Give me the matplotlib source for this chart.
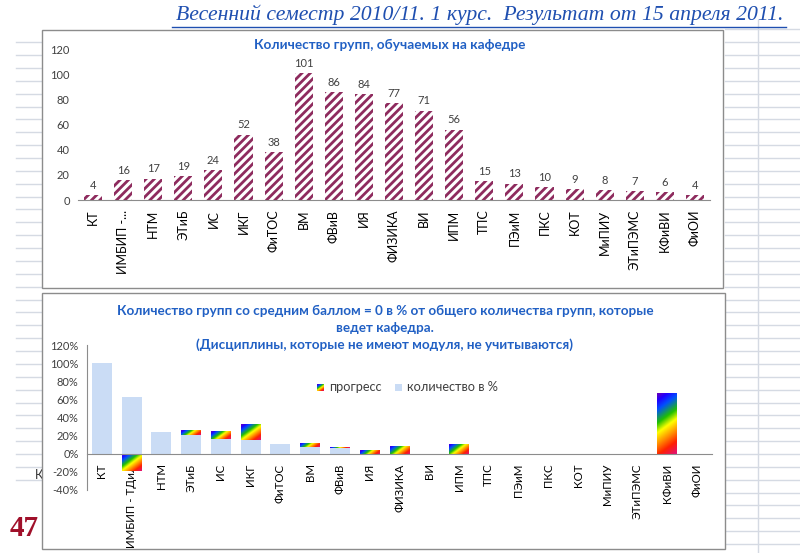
import numpy as np
import matplotlib.pyplot as plt
from matplotlib.colors import LinearSegmentedColormap
from matplotlib.patches import Rectangle
from matplotlib.lines import Line2D

plt.rcParams['font.family'] = ['Lato', 'DejaVu Sans']
plt.rcParams['hatch.linewidth'] = 2.0

W, H = 800, 553

# данные верхней диаграммы
kafedry_top = ['КТ', 'ИМБИП -...', 'НТМ', 'ЭТиБ', 'ИС', 'ИКГ', 'ФиТОС', 'ВМ', 'ФВиВ', 'ИЯ',
               'ФИЗИКА', 'ВИ', 'ИПМ', 'ТПС', 'ПЭиМ', 'ПКС', 'КОТ', 'МиПИУ', 'ЭТиПЭМС',
               'КФиВИ', 'ФиОИ']
gruppy = [4, 16, 17, 19, 24, 52, 38, 101, 86, 84, 77, 71, 56, 15, 13, 10, 9, 8, 7, 6, 4]

# данные нижней диаграммы (в %)
kafedry_bot = ['КТ', 'ИМБИП - ТДиЛ', 'НТМ', 'ЭТиБ', 'ИС', 'ИКГ', 'ФиТОС', 'ВМ', 'ФВиВ', 'ИЯ',
               'ФИЗИКА', 'ВИ', 'ИПМ', 'ТПС', 'ПЭиМ', 'ПКС', 'КОТ', 'МиПИУ', 'ЭТиПЭМС',
               'КФиВИ', 'ФиОИ']
kolichestvo = [100, 62.5, 23.5, 21.1, 16.7, 15.4, 10.5, 6.9, 5.8, 0, 0, 0, 0, 0, 0, 0, 0, 0, 0, 0, 0]
progress = [0, -18.8, 0, 5.3, 8.3, 17.3, 0, 5.0, 1.2, 3.6, 9.1, 0, 11.2, 0, 0, 0, 0, 0, 0, 66.7, 0]

blue_title = '#2160C4'
rainbow = LinearSegmentedColormap.from_list('rb', [
    (0.0, '#6A00B8'), (0.1, '#2000FF'), (0.22, '#0050FF'), (0.4, '#20C000'),
    (0.53, '#FFFF00'), (0.68, '#FF9000'), (0.83, '#FF2000'), (1.0, '#E0107A')])


def fx(x):
    return x / W


def fy(y):
    return 1 - y / H


def gradient(pw, ph, k=1.4):
    nx = max(int(pw * 2), 2)
    ny = max(int(ph * 2), 2)
    xs = np.linspace(0, 1, nx) * pw
    ys = np.linspace(0, 1, ny) * ph
    return (xs[None, :] + k * ys[:, None]) / (pw + k * ph)


fig = plt.figure(figsize=(W / 100, H / 100), dpi=100)

# сетка листа Excel по краям
for k in range(0, 41):
    y = 29.3 + k * 12.87
    fig.add_artist(Line2D([fx(725), fx(800)], [fy(y), fy(y)], color='#D5DAE3', lw=1, zorder=-3))
    if 1 <= k <= 35:
        fig.add_artist(Line2D([fx(16), fx(42)], [fy(y), fy(y)], color='#D5DAE3', lw=1, zorder=-3))
fig.add_artist(Line2D([fx(758), fx(758)], [fy(20), fy(553)], color='#D5DAE3', lw=1, zorder=-3))
fig.text(fx(35), fy(475), 'К', fontsize=9, color='#333333', va='center', zorder=-3)

# рамки диаграмм
for (x0, y0, x1, y1) in [(42, 30, 723, 288), (42, 293, 725, 549)]:
    fig.add_artist(Rectangle((fx(x0), fy(y1)), fx(x1) - fx(x0), fy(y0) - fy(y1),
                             transform=fig.transFigure, facecolor='white',
                             edgecolor='#8C8C8C', lw=1, zorder=-1))

# заголовок слайда
fig.text(fx(784), fy(15), 'Весенний семестр 2010/11. 1 курс.  Результат от 15 апреля 2011.',
         family='Liberation Serif', style='italic', fontsize=15.7, color='#1F4FB0',
         ha='right', va='center')
fig.add_artist(Line2D([fx(172), fx(786)], [fy(27), fy(27)], color='#1F4FB0', lw=1))
fig.text(fx(10), fy(528), '47', family='Liberation Serif', weight='bold', fontsize=21,
         color='#A0102A', va='center')

# ---------- верхняя диаграмма ----------
ax1 = fig.add_axes([fx(78), fy(200), fx(710) - fx(78), fy(49) - fy(200)])
ax1.set_facecolor('none')
x = np.arange(len(gruppy))
bars = ax1.bar(x, gruppy, width=0.6, color='white', edgecolor='#8E2B5E', hatch='////', lw=0)
for xi, v in zip(x, gruppy):
    ax1.annotate(str(v), (xi, v), xytext=(0, 3), textcoords='offset points',
                 ha='center', va='bottom', fontsize=8, color='#404040')
ax1.set_xlim(-0.5, len(gruppy) - 0.5)
ax1.set_ylim(0, 120)
ax1.set_yticks(range(0, 121, 20))
ax1.set_xticks(x)
ax1.set_xticklabels(kafedry_top, rotation=90, fontsize=9)
ax1.tick_params(axis='x', length=0, pad=7)
ax1.tick_params(axis='y', length=0, pad=6, labelsize=8, labelcolor='#404040')
for s in ['top', 'right', 'left']:
    ax1.spines[s].set_visible(False)
ax1.spines['bottom'].set_color('#8C8C8C')
fig.text(fx(390), fy(45), 'Количество групп, обучаемых на кафедре', fontsize=9.8,
         weight='bold', color=blue_title, ha='center', va='center')

# ---------- нижняя диаграмма ----------
ax2 = fig.add_axes([fx(87), fy(490), fx(712) - fx(87), fy(345) - fy(490)])
ax2.set_facecolor('none')
ax2.spines['bottom'].set_position(('data', 0))
x2 = np.arange(len(kolichestvo))
ax2.set_xlim(-0.5, len(kolichestvo) - 0.5)
ax2.set_ylim(-40, 120)
ax2.bar(x2, kolichestvo, width=0.67, color='#CADCF5', lw=0)
bottoms = [c if p > 0 else 0 for c, p in zip(kolichestvo, progress)]
pbars = ax2.bar(x2, progress, bottom=bottoms, width=0.67, color='none', lw=0)
for b, p in zip(pbars, progress):
    if p == 0:
        continue
    bb = b.get_bbox()
    xa, xb = bb.x0, bb.x1
    ya, yb = min(bb.y0, bb.y1), max(bb.y0, bb.y1)
    p0 = ax2.transData.transform((xa, ya))
    p1 = ax2.transData.transform((xb, yb))
    img = gradient(p1[0] - p0[0], p1[1] - p0[1])
    im = ax2.imshow(img, cmap=rainbow, extent=(xa, xb, ya, yb), origin='upper',
                    aspect='auto', interpolation='bilinear', vmin=0, vmax=1, zorder=2)
    im.set_clip_path(b)
ax2.set_xlim(-0.5, len(kolichestvo) - 0.5)
ax2.set_ylim(-40, 120)
ax2.set_yticks(range(-40, 121, 20))
ax2.set_yticklabels(['%d%%' % v for v in range(-40, 121, 20)])
ax2.set_xticks(x2)
ax2.set_xticklabels(kafedry_bot, rotation=90, fontsize=8.3)
ax2.tick_params(axis='x', length=0, pad=7)
ax2.tick_params(axis='y', length=0, pad=6, labelsize=8, labelcolor='#404040')
for s in ['top', 'right']:
    ax2.spines[s].set_visible(False)
ax2.spines['bottom'].set_color('#8C8C8C')
ax2.spines['left'].set_color('#8C8C8C')

fig.text(fx(385), fy(311), 'Количество групп со средним баллом = 0 в % от общего количества групп, которые',
         fontsize=9.7, weight='bold', color=blue_title, ha='center', va='center')
fig.text(fx(385), fy(328), 'ведет кафедра.', fontsize=9.7, weight='bold', color=blue_title,
         ha='center', va='center')
fig.text(fx(385), fy(345), '(Дисциплины, которые не имеют модуля, не учитываются)',
         fontsize=9.7, weight='bold', color=blue_title, ha='center', va='center')

# легенда
lg = fig.add_axes([fx(317), fy(391), fx(324) - fx(317), fy(384) - fy(391)])
lg.imshow(gradient(7, 7), cmap=rainbow, aspect='auto', interpolation='bilinear', vmin=0, vmax=1)
lg.axis('off')
fig.text(fx(329), fy(387), 'прогресс', fontsize=9.2, color='#404040', va='center')
fig.add_artist(Rectangle((fx(395), fy(391)), fx(402) - fx(395), fy(384) - fy(391),
                         transform=fig.transFigure, facecolor='#CADCF5', lw=0))
fig.text(fx(407), fy(387), 'количество в %', fontsize=9.2, color='#404040', va='center')

fig.savefig('out.png', dpi=100, facecolor='white')
